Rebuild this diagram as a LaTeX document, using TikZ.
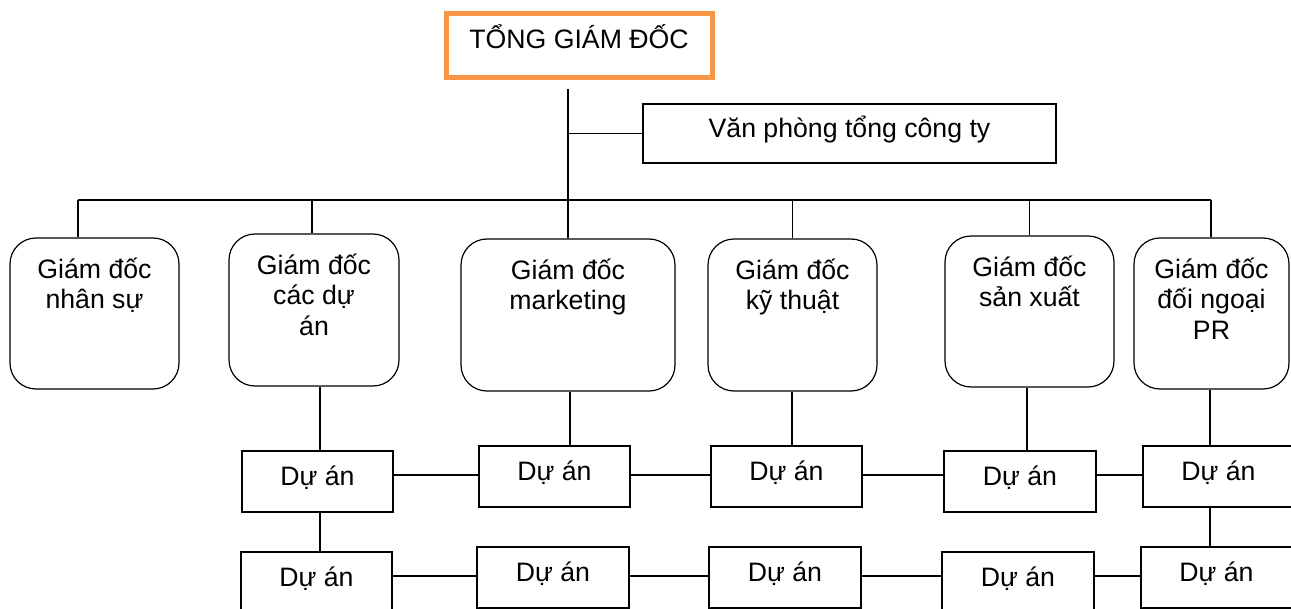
\documentclass[tikz,border=0pt]{standalone}
\usepackage{fontspec}
\setmainfont{Liberation Sans}
\usetikzlibrary{fit}
\definecolor{orng}{HTML}{F79646}
\begin{document}
\begin{tikzpicture}[x=0.75pt,y=-0.75pt,
  txt/.style={font=\fontsize{20}{22.7}\selectfont, inner sep=0pt, align=center, text=black},
  topbox/.style={draw=orng, line width=3.75pt, inner sep=0pt},
  dirbox/.style={draw=black, line width=0.9pt, rounded corners=19.5pt, inner sep=0pt},
  projbox/.style={draw=black, line width=0.9pt, inner sep=0pt},
  dirlbl/.style={txt, anchor=north, yshift=-10.75pt},
  projlbl/.style={txt, anchor=base, yshift=-26.25pt},
  conn/.style={line width=1.4pt, black}]
\useasboundingbox (0,0) rectangle (1291,609);
\fill[white] (0,0) rectangle (1291,609);

% top
\node[topbox, fit={(446,14) (712,77.5)}, label={[txt, anchor=base, yshift=-27.75pt]north:TỔNG GIÁM ĐỐC}] (tgd) {};
\node[projbox, fit={(643,104) (1056,163)}, label={[txt, anchor=base, yshift=-25.5pt]north:Văn phòng tổng công ty}] (vp) {};

% directors
\node[dirbox, fit={(10,238) (179,389)}, label={[dirlbl]north:\rule{0pt}{20pt}Giám đốc\\nhân sự}] (ns) {};
\node[dirbox, fit={(229,234) (399,386)}, label={[dirlbl]north:\rule{0pt}{20pt}Giám đốc\\các dự\\án}] (cda) {};
\node[dirbox, fit={(461,239) (675,391)}, label={[dirlbl]north:\rule{0pt}{20pt}Giám đốc\\marketing}] (mkt) {};
\node[dirbox, fit={(708,239) (877,391)}, label={[dirlbl]north:\rule{0pt}{20pt}Giám đốc\\kỹ thuật}] (kt) {};
\node[dirbox, fit={(945,236) (1114,387)}, label={[dirlbl]north:\rule{0pt}{20pt}Giám đốc\\sản xuất}] (sx) {};
\node[dirbox, fit={(1134,238) (1289,389)}, label={[dirlbl]north:\rule{0pt}{20pt}Giám đốc\\đối ngoại\\PR}] (pr) {};

% projects row 1
\node[projbox, fit={(242,451) (393,512)}, label={[projlbl]north:Dự án}] (d11) {};
\node[projbox, fit={(479,446) (630,507)}, label={[projlbl]north:Dự án}] (d12) {};
\node[projbox, fit={(711,446) (862,507)}, label={[projlbl]north:Dự án}] (d13) {};
\node[projbox, fit={(944,451) (1096,512)}, label={[projlbl]north:Dự án}] (d14) {};
\node[projbox, fit={(1143,446) (1294,507)}, label={[projlbl]north:Dự án}] (d15) {};
% projects row 2
\node[projbox, fit={(241,552) (392,613)}, label={[projlbl]north:Dự án}] (d21) {};
\node[projbox, fit={(477,547) (629,608)}, label={[projlbl]north:Dự án}] (d22) {};
\node[projbox, fit={(709,547) (861,608)}, label={[projlbl]north:Dự án}] (d23) {};
\node[projbox, fit={(942,552) (1094,613)}, label={[projlbl]north:Dự án}] (d24) {};
\node[projbox, fit={(1141,547) (1292,608)}, label={[projlbl]north:Dự án}] (d25) {};

% helper coordinates
\coordinate (tt) at (568,89);
\coordinate (busL) at (78,200);
\coordinate (busR) at (1211,200);
\coordinate (b2) at (312,200);
\coordinate (v1) at (320,0);
\coordinate (v2) at (570,0);
\coordinate (v3) at (792,0);
\coordinate (v4) at (1027,0);
\coordinate (v5) at (1210,0);
\coordinate (h1) at (0,475);
\coordinate (h2) at (0,576);

% connectors top
\draw[conn] (tt) -- (mkt.north);
\draw[conn] (tt |- vp.west) -- (vp.west);
\draw[conn] (busL) -- (busR);
\draw[conn] (busL) -- (busL |- ns.north);
\draw[conn] (b2) -- (b2 |- cda.north);
\draw[conn] (kt.north |- busL) -- (kt.north);
\draw[conn] (sx.north |- busL) -- (sx.north);
\draw[conn] (busR) -- (busR |- pr.north);

% connectors down
\draw[conn] (v1 |- cda.south) -- (v1 |- d11.north);
\draw[conn] (v1 |- d11.south) -- (v1 |- d21.north);
\draw[conn] (v2 |- mkt.south) -- (v2 |- d12.north);
\draw[conn] (v3 |- kt.south) -- (v3 |- d13.north);
\draw[conn] (v4 |- sx.south) -- (v4 |- d14.north);
\draw[conn] (v5 |- pr.south) -- (v5 |- d15.north);
\draw[conn] (v5 |- d15.south) -- (v5 |- d25.north);

% row connectors
\draw[conn] (d11.east |- h1) -- (d12.west |- h1);
\draw[conn] (d12.east |- h1) -- (d13.west |- h1);
\draw[conn] (d13.east |- h1) -- (d14.west |- h1);
\draw[conn] (d14.east |- h1) -- (d15.west |- h1);
\draw[conn] (d21.east |- h2) -- (d22.west |- h2);
\draw[conn] (d22.east |- h2) -- (d23.west |- h2);
\draw[conn] (d23.east |- h2) -- (d24.west |- h2);
\draw[conn] (d24.east |- h2) -- (d25.west |- h2);
\end{tikzpicture}
\end{document}
